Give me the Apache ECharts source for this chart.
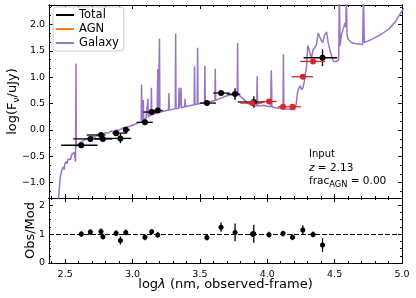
<!DOCTYPE html>
<html><head><meta charset="utf-8">
<script src="https://cdn.jsdelivr.net/npm/echarts@6/dist/echarts.min.js"></script>
<style>html,body{margin:0;padding:0;background:#fff}#c{width:416px;height:298px}</style>
</head><body><div id="c"></div>
<script>
// ---------- data ----------
const specLogLam = [2.448,2.458,2.466,2.472,2.478,2.486,2.492,2.498,2.508,2.515,2.522,2.532,2.540,2.548,2.556,2.562,2.568,2.574,2.577,2.580,2.583,2.592,2.600,2.612,2.622,2.635,2.648,2.660,2.675,2.690,2.705,2.720,2.735,2.750,2.765,2.780,2.800,2.820,2.840,2.860,2.880,2.900,2.920,2.950,2.980,3.010,3.040,
3.064,3.067,3.070,3.077,3.080,3.083,3.100,3.111,3.114,3.117,3.137,3.140,3.143,3.150,3.183,3.187,3.191,3.197,3.200,3.203,3.220,3.267,3.270,3.273,3.317,3.320,3.323,3.342,3.345,3.348,3.357,3.360,3.363,3.387,3.390,3.393,3.420,3.457,3.460,3.463,3.480,3.483,3.486,3.500,3.534,3.537,3.540,3.580,3.611,3.614,3.617,3.650,3.700,3.740,3.777,3.780,3.783,3.800,3.830,3.860,3.900,3.922,3.925,3.928,3.950,3.975,4.000,4.025,4.030,4.035,4.060,4.090,4.117,4.120,4.123,4.150,4.180,4.205,4.215,4.225,4.235,4.245,4.255,4.265,4.275,4.285,4.292,4.300,4.308,4.318,4.328,4.340,4.352,4.365,4.378,4.390,4.400,4.412,4.425,4.440,4.452,4.465,4.480,4.492,4.515,4.530,4.535,4.540,4.552,4.568,4.577,4.583,4.587,4.592,4.600,4.625,4.650,4.680,4.708,4.714,4.720,4.760,4.800,4.850,4.900,4.950,5.000,5.020];
const specLogF = [-1.40,-1.05,-0.86,-0.88,-0.74,-0.70,-0.75,-0.64,-0.60,-0.64,-0.55,-0.52,-0.56,-0.47,-0.45,-0.50,-0.42,-0.40,-0.60,1.26,-0.32,-0.30,-0.26,-0.28,-0.22,-0.24,-0.18,-0.20,-0.15,-0.17,-0.12,-0.14,-0.10,-0.11,-0.07,-0.09,-0.05,-0.06,-0.02,-0.03,0.00,-0.01,0.03,0.05,0.07,0.10,0.13,
0.15,0.86,0.16,0.18,0.57,0.19,0.22,0.24,0.59,0.25,0.28,0.80,0.29,0.30,0.32,1.15,0.33,0.33,1.73,0.34,0.35,0.38,0.70,0.38,0.40,1.83,0.40,0.41,0.80,0.41,0.42,0.80,0.42,0.44,0.59,0.44,0.46,0.48,1.21,0.48,0.49,1.56,0.49,0.50,0.52,1.22,0.52,0.54,0.56,1.16,0.56,0.60,0.65,0.67,0.67,1.65,0.67,0.64,0.57,0.50,0.45,0.46,1.02,0.46,0.46,0.47,0.45,0.44,1.13,0.44,0.42,0.41,0.40,1.43,0.40,0.40,0.39,0.39,0.50,0.72,0.80,0.84,0.76,0.80,0.92,1.10,1.20,1.60,1.55,1.45,1.37,1.52,1.56,1.62,1.84,1.87,1.70,1.66,1.80,1.86,1.66,1.52,1.38,1.30,1.30,1.33,2.60,1.60,1.82,1.95,2.03,1.95,2.60,1.80,1.72,1.66,1.64,1.63,1.62,2.60,1.66,1.70,1.75,1.82,1.91,2.05,2.26,2.32];

const blackX    = [2.62, 2.687, 2.766, 2.78, 2.878, 2.91, 2.95, 3.092, 3.142, 3.187, 3.552, 3.657, 3.761, 3.90, 4.41];
const blackY    = [-0.29, -0.17, -0.095, -0.17, -0.06, -0.16, 0.005, 0.145, 0.34, 0.37, 0.51, 0.70, 0.68, 0.53, 1.37];
const blackXlo  = [2.47, 2.56, 2.66, 2.72, 2.85, 2.80, 2.93, 3.03, 3.08, 3.157, 3.50, 3.60, 3.70, 3.78, 4.27];
const blackXhi  = [2.74, 2.80, 2.80, 2.85, 2.96, 2.99, 2.98, 3.15, 3.18, 3.224, 3.62, 3.72, 3.80, 3.98, 4.52];
const blackYerr = [0.03, 0.04, 0.04, 0.04, 0.03, 0.09, 0.03, 0.03, 0.03, 0.03, 0.03, 0.03, 0.11, 0.11, 0.16];
const blackRatio    = [1.00, 1.07, 1.09, 0.91, 1.03, 0.78, 1.06, 0.89, 1.08, 0.97, 0.88, 1.24, 1.06, 1.01, 0.62];
const blackRatioErr = [0.10, 0.10, 0.10, 0.10, 0.10, 0.14, 0.10, 0.10, 0.10, 0.10, 0.10, 0.16, 0.31, 0.31, 0.24];

const redX    = [3.89, 4.013, 4.117, 4.187, 4.264, 4.34];
const redY    = [0.51, 0.54, 0.44, 0.44, 1.01, 1.30];
const redXlo  = [3.80, 3.95, 4.08, 4.15, 4.18, 4.245];
const redXhi  = [3.96, 4.07, 4.15, 4.25, 4.34, 4.43];
const redYerr = [0.03, 0.03, 0.03, 0.03, 0.03, 0.03];
const redRatio    = [1.00, 0.98, 1.02, 0.89, 1.14, 0.99];
const redRatioErr = [0.10, 0.10, 0.10, 0.10, 0.17, 0.10];

const legendNames = ['Total', 'AGN', 'Galaxy'];
const xTickLabels = [2.5, 3.0, 3.5, 4.0, 4.5, 5.0];
const y1TickLabels = [-1.0, -0.5, 0.0, 0.5, 1.0, 1.5, 2.0];
const y2TickLabels = [0, 1, 2];
const inputZ = '2.13';
const inputFracAGN = '0.00';

// ---------- layout / style ----------
const FONT = 'DejaVu Sans';
const X_MIN = 2.38, X_MAX = 5.0;
const Y1_MIN = -1.29, Y1_MAX = 2.37;
const Y2_MIN = 0, Y2_MAX = 2.25;
const PURPLE = '#9a74c6', RED = '#d62728', ORANGE = '#ff7f0e';

const xMinor = []; for (let k = 24; k <= 50; k++) xMinor.push(k / 10);
const y1Minor = []; for (let k = -7; k <= 14; k++) { const v = k / 6; if (v > Y1_MIN && v < Y1_MAX) y1Minor.push(v); }
const y2Minor = []; for (let k = 0; k <= 9; k++) y2Minor.push(k / 4);

function mkX(gridIndex, position, vals, len, labels, extra) {
  return Object.assign({
    type: 'value', gridIndex, position, min: X_MIN, max: X_MAX, nameMoveOverlap: false,
    axisLine: { show: true, onZero: false, lineStyle: { color: '#000', width: 1 } },
    axisTick: { show: true, inside: true, length: len, customValues: vals, lineStyle: { color: '#000', width: 1 } },
    axisLabel: { show: !!labels, customValues: vals, margin: 7, color: '#000', fontFamily: FONT, fontSize: 9.5,
      formatter: v => v.toFixed(1) },
    splitLine: { show: false }, minorTick: { show: false }
  }, extra || {});
}
function mkY(gridIndex, position, min, max, vals, len, labels, fmt, extra) {
  return Object.assign({
    type: 'value', gridIndex, position, min, max, nameMoveOverlap: false,
    axisLine: { show: true, onZero: false, lineStyle: { color: '#000', width: 1 } },
    axisTick: { show: true, inside: true, length: len, customValues: vals, lineStyle: { color: '#000', width: 1 } },
    axisLabel: { show: !!labels, customValues: vals, margin: 4, color: '#000', fontFamily: FONT, fontSize: 9.5,
      formatter: fmt },
    splitLine: { show: false }, minorTick: { show: false }
  }, extra || {});
}
const fmt1 = v => (v < 0 ? '\u2212' : '') + Math.abs(v).toFixed(1);
const fmt0 = v => String(Math.round(v));

const xAxes = [
  mkX(0, 'bottom', xTickLabels, 4, false),
  mkX(0, 'bottom', xMinor, 2, false),
  mkX(0, 'top', xTickLabels, 4, false),
  mkX(0, 'top', xMinor, 2, false),
  mkX(1, 'bottom', xTickLabels, 4, true, {
    name: 'log{i|\u03bb} (nm, observed-frame)', nameLocation: 'middle', nameGap: 15,
    nameTextStyle: { color: '#000', fontFamily: FONT, fontSize: 13, rich: { i: { fontStyle: 'italic', fontFamily: FONT, fontSize: 13 } } }
  }),
  mkX(1, 'bottom', xMinor, 2, false),
  mkX(1, 'top', xTickLabels, 4, false),
  mkX(1, 'top', xMinor, 2, false)
];
const yAxes = [
  mkY(0, 'left', Y1_MIN, Y1_MAX, y1TickLabels, 4, true, fmt1, {
    name: 'log(F{s|\u03bd}/uJy)', nameLocation: 'middle', nameGap: 28,
    nameTextStyle: { color: '#000', fontFamily: FONT, fontSize: 13, lineHeight: 16,
      rich: { s: { fontFamily: FONT, fontSize: 9, verticalAlign: 'bottom', lineHeight: 10 } } }
  }),
  mkY(0, 'left', Y1_MIN, Y1_MAX, y1Minor, 2, false),
  mkY(0, 'right', Y1_MIN, Y1_MAX, y1TickLabels, 4, false),
  mkY(0, 'right', Y1_MIN, Y1_MAX, y1Minor, 2, false),
  mkY(1, 'left', Y2_MIN, Y2_MAX, y2TickLabels, 4, true, fmt0, {
    name: 'Obs/Mod', nameLocation: 'middle', nameGap: 12,
    nameTextStyle: { color: '#000', fontFamily: FONT, fontSize: 13 }
  }),
  mkY(1, 'left', Y2_MIN, Y2_MAX, y2Minor, 2, false),
  mkY(1, 'right', Y2_MIN, Y2_MAX, y2TickLabels, 4, false),
  mkY(1, 'right', Y2_MIN, Y2_MAX, y2Minor, 2, false)
];

function errItem(params, api) {
  const x = api.value(0), y = api.value(1);
  const xl = api.value(2), xh = api.value(3), yl = api.value(4), yh = api.value(5);
  const style = { stroke: api.visual('color'), lineWidth: 1.3 };
  const ch = [];
  if (xh > xl) {
    const a = api.coord([xl, y]), b = api.coord([xh, y]);
    ch.push({ type: 'line', shape: { x1: a[0], y1: a[1], x2: b[0], y2: b[1] }, style });
  }
  const c = api.coord([x, yl]), d = api.coord([x, yh]);
  ch.push({ type: 'line', shape: { x1: c[0], y1: c[1], x2: d[0], y2: d[1] }, style });
  return { type: 'group', children: ch };
}

const spec = specLogLam.map((x, i) => [x, specLogF[i]]);
const blackErr = blackX.map((x, i) => [x, blackY[i], blackXlo[i], blackXhi[i], blackY[i] - blackYerr[i], blackY[i] + blackYerr[i]]);
const redErr = redX.map((x, i) => [x, redY[i], redXlo[i], redXhi[i], redY[i] - redYerr[i], redY[i] + redYerr[i]]);
const ratioX = blackX.concat(redX);
const ratioV = blackRatio.concat(redRatio);
const ratioE = blackRatioErr.concat(redRatioErr);
const ratioErr = ratioX.map((x, i) => [x, ratioV[i], x, x, ratioV[i] - ratioE[i], ratioV[i] + ratioE[i]]);

const chart = echarts.init(document.getElementById('c'), null, { renderer: 'canvas' });
chart.setOption({
  animation: false,
  backgroundColor: '#fff',
  grid: [
    { left: 49, right: 14, top: 5, height: 193, outerBoundsMode: 'none' },
    { left: 49, right: 14, top: 198, height: 65, outerBoundsMode: 'none' }
  ],
  xAxis: xAxes,
  yAxis: yAxes,
  legend: {
    data: legendNames, orient: 'vertical', left: 53, top: 7, icon: 'rect', itemWidth: 18, itemHeight: 2,
    itemGap: 0, padding: [1, 5, 1, 3], backgroundColor: '#fff', borderColor: '#cccccc', borderWidth: 1, borderRadius: 3,
    textStyle: { color: '#000', fontFamily: FONT, fontSize: 11.5, lineHeight: 14 }, selectedMode: false
  },
  graphic: [{
    type: 'text', left: 309, top: 148, silent: true,
    style: {
      text: '{a|Input}\n{i|z} = ' + inputZ + '\nfrac{s|AGN} = ' + inputFracAGN,
      fill: '#000', fontFamily: FONT, fontSize: 10.5, lineHeight: 13.5,
      rich: {
        a: { fontFamily: FONT, fontSize: 10, lineHeight: 13.5 },
        i: { fontStyle: 'italic', fontFamily: FONT, fontSize: 10.5, lineHeight: 13.5 },
        s: { fontFamily: FONT, fontSize: 8.3, verticalAlign: 'bottom', lineHeight: 9 }
      }
    }
  }],
  series: [
    { name: 'Galaxy', type: 'line', xAxisIndex: 0, yAxisIndex: 0, data: spec, showSymbol: false, symbol: 'none',
      color: PURPLE, lineStyle: { color: PURPLE, width: 1.5 }, z: 2, clip: true, silent: true },
    { name: 'Total', type: 'line', xAxisIndex: 0, yAxisIndex: 0, data: [], color: '#000', lineStyle: { color: '#000' } },
    { name: 'AGN', type: 'line', xAxisIndex: 0, yAxisIndex: 0, data: [], color: ORANGE, lineStyle: { color: ORANGE } },
    { type: 'custom', xAxisIndex: 0, yAxisIndex: 0, renderItem: errItem, data: blackErr, color: '#000',
      encode: { x: [0, 2, 3], y: [1, 4, 5] }, z: 3, clip: true, silent: true },
    { type: 'custom', xAxisIndex: 0, yAxisIndex: 0, renderItem: errItem, data: redErr, color: RED,
      encode: { x: [0, 2, 3], y: [1, 4, 5] }, z: 3, clip: true, silent: true },
    { type: 'scatter', xAxisIndex: 0, yAxisIndex: 0, data: blackX.map((x, i) => [x, blackY[i]]), symbolSize: 6,
      itemStyle: { color: '#000', opacity: 1 }, z: 4, silent: true },
    { type: 'scatter', xAxisIndex: 0, yAxisIndex: 0, data: redX.map((x, i) => [x, redY[i]]), symbolSize: 6,
      itemStyle: { color: RED, opacity: 1 }, z: 4, silent: true },
    { type: 'custom', xAxisIndex: 4, yAxisIndex: 4, renderItem: errItem, data: ratioErr, color: '#000',
      encode: { x: [0, 2, 3], y: [1, 4, 5] }, z: 3, clip: true, silent: true },
    { type: 'scatter', xAxisIndex: 4, yAxisIndex: 4, data: ratioX.map((x, i) => [x, ratioV[i]]), symbolSize: 5,
      itemStyle: { color: '#000', opacity: 1 }, z: 4, silent: true,
      markLine: { silent: true, symbol: 'none', label: { show: false },
        lineStyle: { color: '#000', type: [5, 2], width: 1.2 }, data: [{ yAxis: 1 }] } }
  ]
});
</script></body></html>
